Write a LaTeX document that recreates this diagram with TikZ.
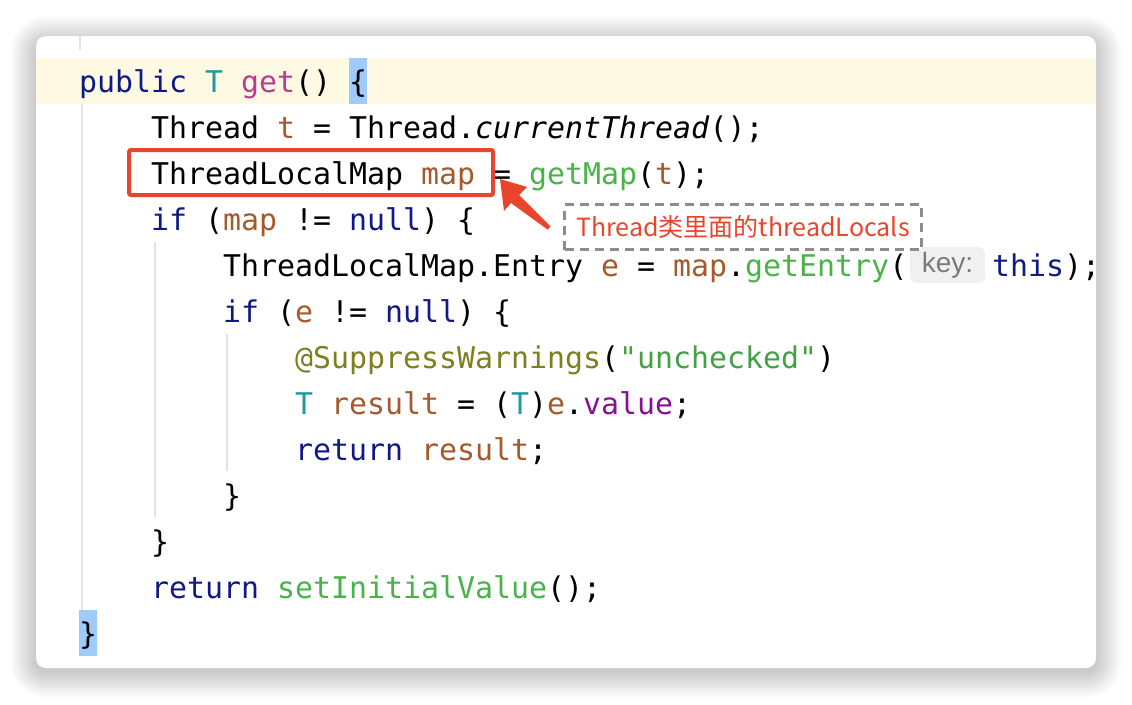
\documentclass[tikz,border=0pt]{standalone}
\usepackage{fontspec}
\setmonofont{DejaVu Sans Mono}
\newfontfamily\notefont{Noto Sans CJK SC}
\newfontfamily\hintfont{Liberation Sans}
\usepackage{tikz}
\usetikzlibrary{calc, positioning}
\definecolor{kwblue}{HTML}{0F1A85}
\definecolor{typeteal}{HTML}{20999D}
\definecolor{declpink}{HTML}{BE3A8C}
\definecolor{varbrown}{HTML}{A65A2B}
\definecolor{fungreen}{HTML}{48B448}
\definecolor{annolive}{HTML}{7E7F20}
\definecolor{strgreen}{HTML}{43A047}
\definecolor{fldpurple}{HTML}{871094}
\definecolor{lineband}{HTML}{FEF9E3}
\definecolor{bracehl}{HTML}{9FCBFA}
\definecolor{guidegray}{HTML}{E2E2E2}
\definecolor{redink}{HTML}{E8452C}
\definecolor{notegray}{HTML}{8C8C8C}
\definecolor{hintbg}{HTML}{F0F0F0}
\definecolor{hinttext}{HTML}{7B7B7B}
\newcommand{\ckw}[1]{\textcolor{kwblue}{#1}}
\newcommand{\ctyp}[1]{\textcolor{typeteal}{#1}}
\newcommand{\cdecl}[1]{\textcolor{declpink}{#1}}
\newcommand{\cvar}[1]{\textcolor{varbrown}{#1}}
\newcommand{\cfun}[1]{\textcolor{fungreen}{#1}}
\newcommand{\cann}[1]{\textcolor{annolive}{#1}}
\newcommand{\cstr}[1]{\textcolor{strgreen}{#1}}
\newcommand{\cfld}[1]{\textcolor{fldpurple}{#1}}
\tikzset{
  code/.style={
    anchor=base west, inner sep=0pt,
    font=\ttfamily\fontsize{29.9}{36}\selectfont
  },
  markbox/.style={
    rectangle, rounded corners=2pt, draw=redink, line width=4pt,
    minimum width=364pt, minimum height=45pt
  },
  note/.style={
    rectangle, draw=notegray, line width=3pt, dash pattern=on 9pt off 6pt,
    fill=white, minimum width=357pt, minimum height=45pt, inner sep=0pt,
    text=redink, font=\notefont\fontsize{25}{29}\selectfont
  },
  hint/.style={
    rectangle, rounded corners=7pt, fill=hintbg, inner sep=0pt,
    minimum width=75pt, minimum height=36pt,
    text=hinttext, font=\hintfont\fontsize{28}{32}\selectfont
  },
  guide/.style={draw=guidegray, line width=2pt}
}

\begin{document}
\begin{tikzpicture}[
  x=1pt, y=-1pt,
  pointer/.style={fill=redink},
  shade layer/.style={fill=black, opacity=0.009}
]
\useasboundingbox (0,0) rectangle (1132,704);
\fill[white] (0,0) rectangle (1132,704);
\foreach \r in {1,...,26}
  \fill[shade layer, rounded corners=10pt+\r pt] (36-\r,42-\r) rectangle (1096+\r,672+\r);
\fill[white, rounded corners=10pt] (36,36) rectangle (1096,668);
\begin{scope}
\clip[rounded corners=10pt] (36,36) rectangle (1096,668);
\fill[lineband] (36,58) rectangle (1096,104);
\fill[bracehl] (349,58) rectangle (367,104);
\fill[bracehl] (79,610) rectangle (97,656);
\draw[guide] (80,36) -- (80,50);
\draw[guide] (82,104) -- (82,610);
\draw[guide] (155,242) -- (155,517);
\draw[guide] (227,334) -- (227,471);
\node[code] (sig) at (79,92) {\ckw{public} \ctyp{T} \cdecl{get}() \{};
\node[code] (cur) at (151,138) {Thread \cvar{t} = Thread.\textit{currentThread}();};
\node[code] (getmap) at (151,184) {ThreadLocalMap \cvar{map} = \cfun{getMap}(\cvar{t});};
\node[code] (ifmap) at (151,230) {\ckw{if} (\cvar{map} != \ckw{null}) \{};
\node[code] (entry) at (223,276) {ThreadLocalMap.Entry \cvar{e} = \cvar{map}.\cfun{getEntry}(};
\node[hint] (hint) at (947.5,265) {key:};
\node[code] (this) at (992,276) {\ckw{this});};
\node[code] (ife) at (223,322) {\ckw{if} (\cvar{e} != \ckw{null}) \{};
\node[code] (warn) at (295,368) {\cann{@SuppressWarnings}(\cstr{"unchecked"})};
\node[code] (result) at (295,414) {\ctyp{T} \cvar{result} = (\ctyp{T})\cvar{e}.\cfld{value};};
\node[code] (ret) at (295,460) {\ckw{return} \cvar{result};};
\node[code] (close2) at (223,506) {\}};
\node[code] (close1) at (151,552) {\}};
\node[code] (retinit) at (151,598) {\ckw{return} \cfun{setInitialValue}();};
\node[code] (close0) at (79,644) {\}};
\end{scope}
\node[markbox] (mark) at (311,172.5) {};
\node[note] (note) at (743,227) {Thread类里面的threadLocals};
\coordinate (tip) at ($(mark.east)+(5,6.5)$);
\coordinate (tail) at ($(note.west)+(-14,1)$);
\fill[pointer] (tip) -- (527,187) -- (519,195) -- ($(tail)+(1.5,-1.5)$)
  -- ($(tail)+(-1.5,1.5)$) -- (511,203) -- (504,211) -- cycle;
\end{tikzpicture}
\end{document}
